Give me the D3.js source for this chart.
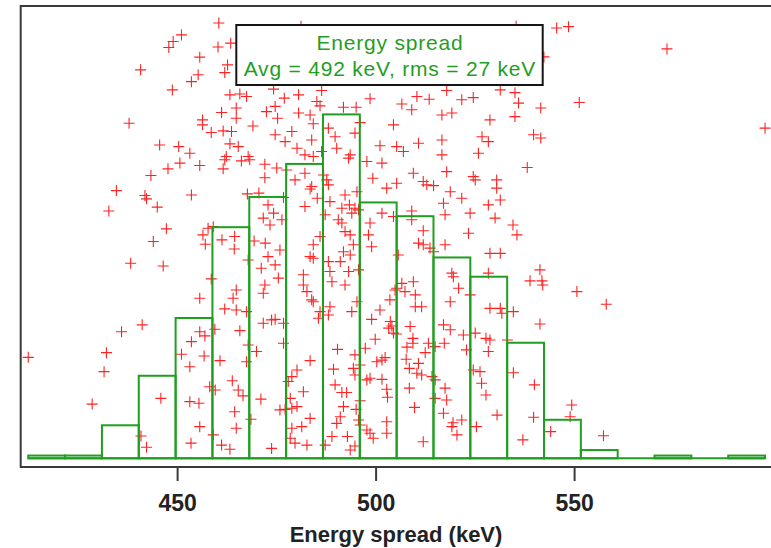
<!DOCTYPE html>
<html>
<head>
<meta charset="utf-8">
<script src="https://cdn.jsdelivr.net/npm/d3@7"></script>
<style>
  html, body { margin: 0; padding: 0; background: #fff; }
  svg { display: block; }
</style>
</head>
<body>
<svg id="chart" width="771" height="548"></svg>
<script>
// ---------------- DATA ----------------
const xTicks = [450, 500, 550];
const xTitle = "Energy spread (keV)";
const legendLines = ["Energy spread", "Avg = 492 keV, rms = 27 keV"];

// histogram counts, 20 equal bins spanning min..max of the energies
const histCounts = [1, 1, 12, 30, 51, 84, 95, 107, 125, 93, 88, 73, 66, 42, 14, 3, 0, 1, 0, 1];

// scatter samples: energy (keV)
const pointEnergy = [
460.5,451.1,449.0,447.9,460.3,463.5,455.7,440.8,462.7,462.0,455.3,453.6,448.8,463.3,465.8,467.5,461.2,464.9,464.9,472.5,
437.9,456.4,456.4,458.6,461.6,463.7,469.1,445.6,450.4,453.2,463.3,465.4,462.4,467.9,481.2,535.4,542.4,474.3,477.0,480.6,
486.4,485.2,486.0,491.9,495.1,498.6,506.6,509.1,510.4,513.5,517.9,521.7,524.6,531.4,535.1,536.0,516.7,519.2,528.8,535.1,
474.7,475.3,480.6,483.5,484.3,488.1,489.8,494.8,504.5,496.1,474.7,477.2,478.9,480.2,483.9,482.2,484.3,486.4,490.2,493.6,
501.1,505.3,507.0,510.8,516.7,516.7,526.8,528.4,525.9,545.6,548.6,573.4,541.6,551.3,539.8,541.6,598.1,447.7,450.7,455.7,
443.4,462.0,461.6,466.2,468.3,472.1,472.1,434.7,441.9,442.3,445.0,453.6,432.8,467.7,470.6,472.9,471.7,473.4,447.3,456.5,
457.8,459.1,457.1,444.0,461.3,464.5,464.4,469.4,472.2,472.9,438.3,446.5,467.9,471.2,458.6,472.1,471.7,455.7,464.9,464.1,
462.0,464.9,467.5,479.7,482.2,483.9,483.5,486.9,487.7,488.1,485.3,482.2,488.5,487.3,476.4,474.3,475.9,474.7,475.5,486.0,
484.3,483.5,484.3,488.1,488.5,489.0,481.8,481.8,482.7,483.9,484.3,486.0,488.5,493.2,497.8,501.6,499.3,502.8,505.3,492.3,
495.3,493.4,491.5,494.8,495.7,494.0,490.6,491.5,492.3,493.6,494.4,491.9,493.6,491.1,493.2,495.7,492.3,495.3,494.0,498.6,
498.2,499.0,501.6,504.5,509.1,509.1,512.0,510.8,512.0,513.7,514.6,509.5,512.0,512.9,514.6,517.9,518.8,521.7,517.1,517.5,
523.8,523.4,517.5,524.6,525.1,530.5,530.5,531.4,528.4,530.1,534.6,535.6,528.8,531.4,528.4,519.2,519.6,520.9,518.8,505.7,
505.3,506.6,507.4,504.9,503.6,509.5,510.0,510.0,511.6,501.1,523.8,528.8,531.4,534.7,475.1,477.6,476.8,538.2,541.4,538.9,
541.9,542.1,550.7,558.1,412.5,436.0,441.2,432.2,431.6,428.6,445.9,440.9,442.3,455.7,457.0,453.6,451.1,456.8,453.2,459.5,
465.8,460.8,467.9,470.0,467.5,471.7,473.8,458.2,459.6,463.9,465.4,466.6,471.1,453.2,455.5,464.5,468.6,455.7,464.9,459.1,
453.5,461.2,463.3,473.8,474.7,476.8,476.8,485.6,488.1,483.5,480.2,478.9,478.0,481.8,478.5,475.9,477.2,478.9,480.2,483.5,
481.4,478.9,478.5,479.7,482.7,487.3,489.0,490.4,489.4,489.8,491.5,492.7,491.9,491.1,490.2,492.9,493.6,494.8,494.8,494.4,
494.8,495.1,495.7,496.1,496.1,496.1,497.8,498.6,499.4,497.4,499.9,499.0,497.8,498.6,501.6,500.3,501.6,502.4,502.8,503.0,
502.8,502.8,503.7,504.1,504.5,503.3,505.3,508.7,509.4,509.4,507.9,507.7,510.8,508.5,510.4,511.6,513.3,512.5,508.5,509.8,
512.0,515.0,517.1,518.8,517.3,514.2,515.0,517.5,515.0,517.9,517.1,519.5,519.2,521.7,520.5,522.1,525.1,527.8,528.8,522.9,
528.4,524.6,526.3,526.7,527.8,525.4,530.6,531.8,533.2,534.7,537.1,541.4,540.0,539.8,549.4,549.0,544.1,557.4
];
// scatter samples: vertical value (arbitrary units, same scale as counts)
const pointY = [
158.2,153.9,151.5,149.3,149.5,150.9,145.8,141.2,143.0,140.2,139.4,136.9,133.9,132.1,132.4,131.5,125.7,127.3,123.6,126.0,
121.8,123.0,121.2,118.4,119.0,118.8,120.8,113.9,113.3,110.9,114.3,113.3,109.7,109.7,157.0,157.0,145.9,134.2,130.9,132.1,
133.7,129.7,128.1,127.6,127.6,130.7,128.8,126.7,131.5,130.5,133.7,130.3,131.1,133.9,132.9,129.1,124.8,125.5,123.0,124.2,
127.9,123.6,125.5,124.8,121.6,120.0,116.9,118.2,121.2,122.0,117.6,115.1,118.8,112.7,115.7,110.3,109.7,111.5,112.7,110.3,
113.6,113.3,111.5,114.5,115.7,110.3,116.9,115.1,110.9,156.4,156.9,148.8,127.3,129.3,117.6,116.4,120.0,105.2,107.3,106.4,
102.8,108.5,105.2,108.1,108.5,106.9,102.0,97.3,95.5,94.3,91.3,95.7,89.9,96.1,96.4,92.1,87.3,84.8,83.4,81.2,
83.6,84.2,77.8,78.8,79.4,80.6,76.1,79.0,78.2,73.3,70.9,69.9,72.1,69.1,65.2,63.0,60.0,58.2,61.2,58.2,
54.3,53.9,53.3,101.2,103.6,98.8,97.9,103.0,101.2,99.4,94.5,91.5,93.3,88.5,86.7,89.1,75.7,70.3,65.5,80.6,
77.6,73.3,72.7,71.5,67.9,64.2,66.7,63.0,60.6,57.6,56.9,53.3,55.1,109.1,107.9,107.3,101.8,98.2,100.0,95.7,
96.9,92.1,90.9,90.9,90.3,89.1,86.7,85.5,82.4,81.2,77.6,75.1,73.9,71.5,67.9,68.5,63.0,56.9,53.3,85.5,
81.2,76.9,89.1,87.9,89.9,86.7,82.7,78.2,77.6,76.4,75.1,103.6,100.6,99.4,99.1,104.2,96.9,94.5,92.7,88.5,
89.1,81.8,77.6,102.4,101.2,101.2,98.2,93.9,92.1,87.3,84.8,81.2,74.5,74.5,67.3,67.3,66.0,61.8,56.9,73.9,
61.8,63.6,60.6,61.2,57.6,64.2,59.4,55.1,55.1,53.9,59.4,54.5,54.5,53.3,105.5,104.8,94.8,105.7,68.5,64.5,
64.5,63.0,60.6,56.0,36.7,46.0,48.5,38.4,31.5,19.7,21.8,8.1,4.0,46.0,44.5,42.4,37.8,37.2,33.3,46.9,
46.4,35.5,41.2,38.8,35.1,49.1,50.3,26.0,24.8,28.2,24.8,22.7,21.5,20.6,20.0,16.9,14.2,11.5,10.9,8.5,
5.5,4.8,3.3,3.6,50.5,49.1,41.8,50.9,52.1,35.5,32.1,29.7,27.9,24.2,21.8,17.6,17.8,18.2,18.8,14.5,
11.5,10.9,7.3,5.5,4.8,4.8,7.9,39.6,32.4,26.7,23.9,23.9,18.8,15.1,12.7,7.9,3.0,4.5,37.6,32.7,
30.3,17.8,13.9,12.1,33.9,20.9,10.3,9.1,7.3,40.0,43.3,50.5,28.5,29.1,28.7,35.1,35.7,36.6,25.1,22.2,
13.3,9.1,49.7,48.1,45.5,47.3,45.2,47.9,43.6,41.8,40.4,36.0,34.5,32.7,30.9,30.3,41.8,38.4,25.5,18.5,
6.0,40.6,48.5,46.7,41.8,29.7,28.5,25.5,21.8,21.2,16.4,12.9,11.5,13.9,8.5,44.8,45.5,43.6,43.0,39.4,
38.8,32.1,31.5,27.3,23.0,11.5,15.7,52.7,43.0,31.1,6.7,48.8,26.7,14.9,19.4,15.1,9.7,8.2
];

// ---------------- LAYOUT ----------------
const W = 771, H = 548;
const plotLeft = 20.7, plotRight = 771, plotTop = 6, plotBottom = 467;
const green = "#1f9e1f", red = "#ff2222";

const svg = d3.select("#chart");
svg.append("rect").attr("width", W).attr("height", H).attr("fill", "#fff");

const x = d3.scaleLinear().domain([410.6, 599.6]).range([plotLeft, plotRight]);
const y = d3.scaleLinear().domain([-3.16, 164.4]).range([plotBottom, plotTop]);

svg.append("clipPath").attr("id", "clip")
  .append("rect").attr("x", plotLeft).attr("y", plotTop)
  .attr("width", plotRight - plotLeft).attr("height", plotBottom - plotTop);

const pts = pointEnergy.map((e, i) => ({ e, v: pointY[i] }));

// scatter (red pluses)
svg.append("g").attr("clip-path", "url(#clip)")
  .selectAll("path").data(pts).join("path")
  .attr("transform", d => `translate(${x(d.e)},${y(d.v)})`)
  .attr("d", "M-5.5,0H5.5M0,-5.5V5.5")
  .attr("stroke", red).attr("stroke-width", 1.1).attr("fill", "none");

// histogram
const lo = d3.min(pointEnergy), hi = d3.max(pointEnergy);
const bw = (hi - lo) / histCounts.length;
const bins = histCounts.map((c, i) => ({ x0: lo + i * bw, x1: lo + (i + 1) * bw, c }));
const hg = svg.append("g");
hg.append("line")
  .attr("x1", x(lo)).attr("x2", x(hi)).attr("y1", y(0)).attr("y2", y(0))
  .attr("stroke", green).attr("stroke-width", 2);
hg.selectAll("rect").data(bins.filter(b => b.c > 0)).join("rect")
  .attr("x", d => x(d.x0)).attr("width", d => x(d.x1) - x(d.x0))
  .attr("y", d => y(d.c)).attr("height", d => y(0) - y(d.c))
  .attr("fill", "none").attr("stroke", green).attr("stroke-width", 2);

// frame
svg.append("rect")
  .attr("x", plotLeft).attr("y", plotTop)
  .attr("width", plotRight - plotLeft + 10).attr("height", plotBottom - plotTop)
  .attr("fill", "none").attr("stroke", "#3a3a3a").attr("stroke-width", 2);

// x axis
const axis = d3.axisBottom(x).tickValues(xTicks).tickSize(14).tickSizeOuter(0).tickPadding(14)
  .tickFormat(d3.format("d"));
const ag = svg.append("g").attr("transform", `translate(0,${plotBottom})`).call(axis);
ag.select(".domain").remove();
ag.selectAll(".tick line").attr("stroke", "#3a3a3a").attr("stroke-width", 2);
ag.selectAll(".tick text")
  .attr("fill", "#222")
  .style("font-family", "'Liberation Sans', Arial, sans-serif")
  .style("font-weight", "bold").style("font-size", "23px");

svg.append("text")
  .attr("x", 396).attr("y", 542).attr("text-anchor", "middle")
  .attr("fill", "#222")
  .style("font-family", "'Liberation Sans', Arial, sans-serif")
  .style("font-weight", "bold").style("font-size", "22px")
  .text(xTitle);

// legend box
const lg = svg.append("g");
lg.append("rect").attr("x", 236.3).attr("y", 25).attr("width", 306.4).attr("height", 60)
  .attr("fill", "#fff").attr("stroke", "#151515").attr("stroke-width", 2);
lg.selectAll("text").data(legendLines).join("text")
  .attr("x", 389.9).attr("y", (d, i) => 50 + i * 25.5)
  .attr("text-anchor", "middle").attr("fill", green)
  .style("font-family", "'Liberation Sans', Arial, sans-serif")
  .style("font-size", "21px").style("letter-spacing", "0.8px")
  .text(d => d);
</script>
</body>
</html>
